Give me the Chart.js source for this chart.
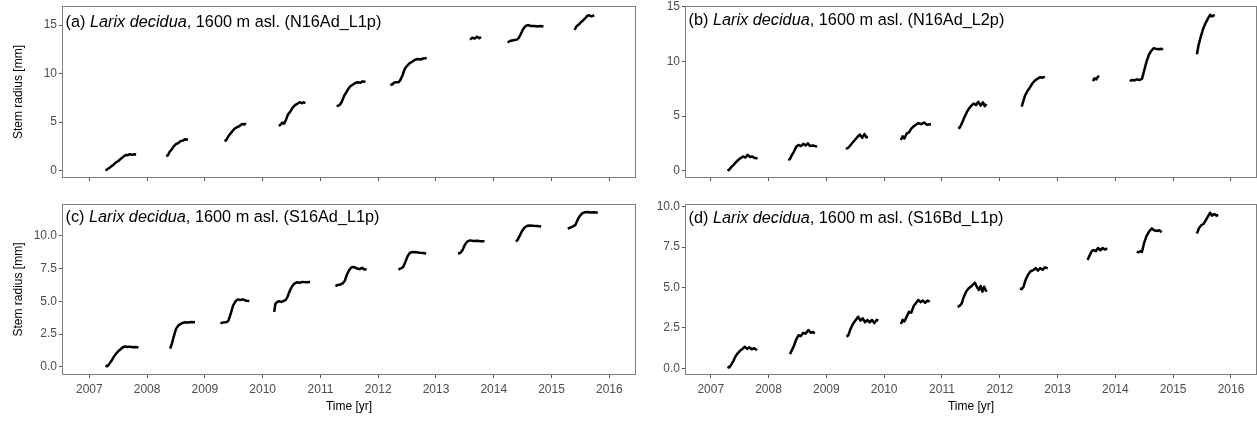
<!DOCTYPE html>
<html>
<head>
<meta charset="utf-8">
<script src="https://cdn.jsdelivr.net/npm/chart.js@4.4.1/dist/chart.umd.min.js"></script>
<style>
  body { margin: 0; background: #fff; width: 1257px; height: 421px; overflow: hidden; position: relative; }
  .panel { position: absolute; }
</style>
</head>
<body>
<div class="panel" style="left:0;top:0;width:640px;height:200px"><canvas id="chartA"></canvas></div>
<div class="panel" style="left:640px;top:0;width:617px;height:200px"><canvas id="chartB"></canvas></div>
<div class="panel" style="left:0;top:200px;width:640px;height:221px"><canvas id="chartC"></canvas></div>
<div class="panel" style="left:640px;top:200px;width:617px;height:221px"><canvas id="chartD"></canvas></div>
<script>
// ---- data (decimal year, stem radius in mm); null splits growing seasons ----
const yearTicks = [2007, 2008, 2009, 2010, 2011, 2012, 2013, 2014, 2015, 2016];
const radiusTicksAB = [0, 5, 10, 15];
const radiusTicksCD = [0, 2.5, 5, 7.5, 10];

const timeA = [
  2007.28, 2007.31, 2007.35, 2007.39, 2007.42, 2007.46, 2007.50, 2007.54, 2007.57, 2007.60, 2007.63, 2007.67, 2007.70, 2007.74, 2007.78, 2007.81, null,
  2008.33, 2008.36, 2008.39, 2008.42, 2008.46, 2008.50, 2008.54, 2008.58, 2008.62, 2008.66, 2008.71, null,
  2009.34, 2009.37, 2009.40, 2009.44, 2009.48, 2009.52, 2009.56, 2009.60, 2009.64, 2009.68, 2009.71, null,
  2010.28, 2010.31, 2010.34, 2010.37, 2010.40, 2010.44, 2010.48, 2010.52, 2010.56, 2010.60, 2010.64, 2010.68, 2010.71, 2010.74, null,
  2011.28, 2011.31, 2011.34, 2011.37, 2011.41, 2011.45, 2011.49, 2011.53, 2011.57, 2011.61, 2011.65, 2011.69, 2011.73, 2011.78, null,
  2012.21, 2012.24, 2012.27, 2012.31, 2012.35, 2012.38, 2012.42, 2012.46, 2012.50, 2012.54, 2012.58, 2012.63, 2012.68, 2012.73, 2012.78, 2012.84, null,
  2013.59, 2013.63, 2013.67, 2013.71, 2013.75, 2013.78, null,
  2014.24, 2014.28, 2014.32, 2014.36, 2014.40, 2014.43, 2014.47, 2014.51, 2014.55, 2014.59, 2014.64, 2014.70, 2014.76, 2014.81, 2014.86, null,
  2015.40, 2015.43, 2015.47, 2015.51, 2015.55, 2015.59, 2015.62, 2015.65, 2015.69, 2015.74
];
const radiusA = [
  0.02, 0.15, 0.30, 0.50, 0.62, 0.85, 1.00, 1.20, 1.35, 1.50, 1.62, 1.60, 1.70, 1.63, 1.70, 1.68, null,
  1.50, 1.58, 1.95, 2.15, 2.50, 2.75, 2.85, 3.05, 3.10, 3.25, 3.20, null,
  3.05, 3.15, 3.50, 3.80, 4.10, 4.35, 4.50, 4.60, 4.80, 4.75, 4.90, null,
  4.60, 4.75, 4.95, 4.85, 5.20, 5.80, 6.10, 6.50, 6.75, 6.90, 7.05, 6.95, 7.05, 6.95, null,
  6.65, 6.70, 6.80, 7.10, 7.70, 8.10, 8.50, 8.75, 8.90, 9.05, 9.10, 9.05, 9.20, 9.15, null,
  8.90, 8.85, 9.05, 9.10, 9.10, 9.30, 9.80, 10.50, 10.80, 11.05, 11.20, 11.40, 11.50, 11.45, 11.55, 11.60, null,
  13.50, 13.70, 13.60, 13.80, 13.65, 13.75, null,
  13.20, 13.35, 13.40, 13.45, 13.50, 13.65, 14.10, 14.60, 14.90, 15.00, 14.90, 14.90, 14.85, 14.90, 14.85, null,
  14.50, 14.85, 15.05, 15.30, 15.50, 15.75, 15.95, 16.00, 15.90, 16.00
];

const timeB = [
  2007.29, 2007.32, 2007.36, 2007.40, 2007.44, 2007.48, 2007.52, 2007.56, 2007.60, 2007.64, 2007.68, 2007.72, 2007.76, 2007.81, null,
  2008.34, 2008.37, 2008.40, 2008.44, 2008.48, 2008.52, 2008.56, 2008.60, 2008.64, 2008.68, 2008.72, 2008.77, 2008.84, null,
  2009.34, 2009.38, 2009.42, 2009.46, 2009.50, 2009.54, 2009.58, 2009.62, 2009.66, 2009.69, 2009.72, null,
  2010.29, 2010.32, 2010.35, 2010.39, 2010.43, 2010.47, 2010.51, 2010.55, 2010.59, 2010.64, 2010.69, 2010.74, 2010.81, null,
  2011.28, 2011.31, 2011.35, 2011.39, 2011.43, 2011.47, 2011.51, 2011.55, 2011.59, 2011.63, 2011.67, 2011.71, 2011.74, 2011.77, null,
  2012.38, 2012.41, 2012.44, 2012.48, 2012.52, 2012.56, 2012.60, 2012.65, 2012.70, 2012.74, 2012.78, null,
  2013.61, 2013.64, 2013.67, 2013.70, 2013.72, null,
  2014.25, 2014.29, 2014.33, 2014.37, 2014.42, 2014.46, 2014.50, 2014.54, 2014.58, 2014.62, 2014.66, 2014.70, 2014.75, 2014.80, 2014.82, null,
  2015.41, 2015.44, 2015.48, 2015.52, 2015.56, 2015.60, 2015.64, 2015.67, 2015.70, 2015.72
];
const radiusB = [
  0.00, 0.10, 0.35, 0.55, 0.80, 1.00, 1.15, 1.30, 1.20, 1.45, 1.25, 1.30, 1.15, 1.13, null,
  0.98, 1.05, 1.40, 1.75, 2.20, 2.35, 2.25, 2.45, 2.30, 2.50, 2.25, 2.30, 2.20, null,
  1.98, 2.10, 2.35, 2.60, 2.85, 3.10, 3.30, 3.00, 3.35, 3.05, 3.10, null,
  2.80, 3.15, 2.95, 3.40, 3.50, 3.85, 4.05, 4.20, 4.35, 4.25, 4.40, 4.20, 4.25, null,
  3.88, 3.95, 4.40, 4.90, 5.35, 5.70, 5.95, 6.15, 6.00, 6.30, 5.95, 6.25, 5.90, 6.10, null,
  5.86, 6.40, 6.90, 7.30, 7.60, 7.95, 8.20, 8.40, 8.55, 8.50, 8.60, null,
  8.20, 8.45, 8.35, 8.60, 8.66, null,
  8.20, 8.30, 8.25, 8.35, 8.30, 8.40, 9.20, 10.00, 10.60, 10.95, 11.20, 11.15, 11.10, 11.15, 11.05, null,
  10.65, 11.50, 12.30, 13.00, 13.50, 13.90, 14.25, 14.10, 14.20, 14.15
];

const timeC = [
  2007.28, 2007.31, 2007.34, 2007.38, 2007.42, 2007.46, 2007.50, 2007.54, 2007.58, 2007.62, 2007.66, 2007.70, 2007.75, 2007.80, 2007.85, null,
  2008.40, 2008.43, 2008.46, 2008.50, 2008.54, 2008.57, 2008.61, 2008.66, 2008.71, 2008.77, 2008.83, null,
  2009.27, 2009.31, 2009.35, 2009.38, 2009.41, 2009.45, 2009.49, 2009.53, 2009.57, 2009.61, 2009.66, 2009.71, 2009.77, null,
  2010.20, 2010.22, 2010.25, 2010.29, 2010.33, 2010.37, 2010.40, 2010.43, 2010.47, 2010.51, 2010.55, 2010.59, 2010.64, 2010.69, 2010.75, 2010.82, null,
  2011.26, 2011.30, 2011.34, 2011.38, 2011.42, 2011.46, 2011.50, 2011.54, 2011.58, 2011.63, 2011.68, 2011.72, 2011.76, 2011.80, null,
  2012.35, 2012.39, 2012.43, 2012.47, 2012.51, 2012.55, 2012.60, 2012.66, 2012.72, 2012.78, 2012.83, null,
  2013.38, 2013.42, 2013.46, 2013.50, 2013.54, 2013.59, 2013.65, 2013.71, 2013.77, 2013.84, null,
  2014.38, 2014.41, 2014.45, 2014.49, 2014.53, 2014.58, 2014.63, 2014.69, 2014.75, 2014.82, null,
  2015.28, 2015.32, 2015.37, 2015.41, 2015.45, 2015.49, 2015.53, 2015.57, 2015.62, 2015.68, 2015.74, 2015.80
];
const radiusC = [
  0.12, 0.05, 0.20, 0.45, 0.75, 1.00, 1.20, 1.35, 1.50, 1.56, 1.52, 1.55, 1.50, 1.52, 1.48, null,
  1.39, 1.80, 2.30, 2.90, 3.15, 3.25, 3.35, 3.40, 3.38, 3.42, 3.40, null,
  3.33, 3.38, 3.40, 3.42, 3.55, 4.10, 4.70, 5.00, 5.15, 5.10, 5.15, 5.05, 5.02, null,
  4.20, 4.80, 4.95, 5.00, 4.95, 5.05, 5.10, 5.35, 5.80, 6.15, 6.35, 6.45, 6.42, 6.48, 6.45, 6.48, null,
  6.16, 6.25, 6.28, 6.35, 6.55, 7.05, 7.40, 7.60, 7.62, 7.50, 7.45, 7.55, 7.42, 7.45, null,
  7.42, 7.50, 7.60, 8.00, 8.45, 8.70, 8.76, 8.74, 8.70, 8.68, 8.64, null,
  8.64, 8.68, 8.90, 9.30, 9.55, 9.64, 9.60, 9.62, 9.58, 9.57, null,
  9.57, 9.65, 10.00, 10.35, 10.60, 10.75, 10.78, 10.75, 10.74, 10.70, null,
  10.53, 10.60, 10.70, 10.80, 11.20, 11.50, 11.70, 11.78, 11.80, 11.76, 11.78, 11.74
];

const timeD = [
  2007.29, 2007.32, 2007.35, 2007.39, 2007.43, 2007.47, 2007.51, 2007.55, 2007.59, 2007.63, 2007.67, 2007.71, 2007.75, 2007.80, null,
  2008.37, 2008.40, 2008.44, 2008.48, 2008.52, 2008.56, 2008.60, 2008.64, 2008.69, 2008.73, 2008.77, 2008.80, null,
  2009.35, 2009.38, 2009.42, 2009.46, 2009.50, 2009.55, 2009.59, 2009.63, 2009.67, 2009.71, 2009.75, 2009.79, 2009.83, 2009.87, 2009.90, null,
  2010.29, 2010.32, 2010.35, 2010.39, 2010.43, 2010.47, 2010.51, 2010.55, 2010.59, 2010.63, 2010.67, 2010.71, 2010.75, 2010.79, null,
  2011.27, 2011.30, 2011.34, 2011.38, 2011.42, 2011.46, 2011.50, 2011.54, 2011.57, 2011.61, 2011.64, 2011.67, 2011.70, 2011.73, 2011.76, 2011.78, null,
  2012.35, 2012.38, 2012.41, 2012.45, 2012.49, 2012.53, 2012.58, 2012.62, 2012.66, 2012.70, 2012.74, 2012.78, 2012.83, null,
  2013.52, 2013.55, 2013.59, 2013.62, 2013.66, 2013.70, 2013.74, 2013.78, 2013.82, 2013.86, null,
  2014.37, 2014.40, 2014.43, 2014.46, 2014.50, 2014.54, 2014.58, 2014.63, 2014.67, 2014.72, 2014.76, 2014.80, null,
  2015.41, 2015.45, 2015.49, 2015.53, 2015.57, 2015.61, 2015.64, 2015.67, 2015.71, 2015.75, 2015.78
];
const radiusD = [
  0.10, 0.05, 0.20, 0.45, 0.75, 0.95, 1.10, 1.20, 1.34, 1.20, 1.30, 1.18, 1.25, 1.13, null,
  0.88, 1.10, 1.40, 1.80, 2.05, 2.00, 2.20, 2.15, 2.37, 2.20, 2.25, 2.16, null,
  1.96, 2.05, 2.45, 2.75, 2.95, 3.20, 2.95, 3.10, 2.85, 3.00, 2.85, 3.00, 2.80, 3.00, 2.95, null,
  2.74, 3.00, 2.90, 3.20, 3.50, 3.45, 3.85, 4.05, 4.23, 4.10, 4.20, 4.05, 4.20, 4.12, null,
  3.81, 3.85, 4.00, 4.45, 4.75, 4.95, 5.05, 5.20, 5.30, 5.00, 4.85, 5.10, 4.75, 5.05, 4.80, 4.85, null,
  4.95, 4.90, 5.05, 5.50, 5.80, 6.00, 6.08, 6.20, 6.05, 6.20, 6.10, 6.25, 6.19, null,
  6.70, 6.95, 7.25, 7.32, 7.25, 7.45, 7.30, 7.45, 7.35, 7.42, null,
  7.22, 7.18, 7.25, 7.20, 7.80, 8.20, 8.45, 8.66, 8.55, 8.50, 8.55, 8.42, null,
  8.35, 8.70, 8.87, 8.95, 9.20, 9.45, 9.63, 9.45, 9.55, 9.45, 9.49
];

const FONT = '"Liberation Sans", Arial, Helvetica, sans-serif';

// panel label drawn inside the top-left corner, plus the grey frame
const framePlugin = {
  id: 'frame',
  afterDatasetsDraw(chart, args, opts) {
    const { ctx, chartArea: a } = chart;
    ctx.save();
    ctx.strokeStyle = '#808080';
    ctx.lineWidth = 1;
    ctx.strokeRect(a.left + 0.5, a.top + 0.5, a.right - a.left - 1, a.bottom - a.top - 1);
    let x = a.left + 3.5;
    const y = a.top + opts.dy;
    ctx.fillStyle = '#000';
    ctx.textBaseline = 'alphabetic';
    opts.parts.forEach(p => {
      ctx.font = (p.italic ? 'italic ' : '') + '16.3px ' + FONT;
      ctx.fillText(p.text, x, y);
      x += ctx.measureText(p.text).width;
    });
    ctx.restore();
  }
};

function makePanel(id, cfg) {
  const points = cfg.time.map((t, i) => ({ x: t, y: cfg.radius[i] }));
  new Chart(document.getElementById(id), {
    type: 'line',
    data: {
      datasets: [{
        data: points,
        borderColor: '#000',
        borderWidth: 2.5,
        borderJoinStyle: 'round',
        pointRadius: 0,
        tension: 0,
        spanGaps: false
      }]
    },
    options: {
      responsive: true,
      maintainAspectRatio: false,
      animation: false,
      events: [],
      layout: { padding: { top: cfg.padTop, right: cfg.padRight, bottom: 0, left: 0 } },
      plugins: {
        legend: { display: false },
        tooltip: { enabled: false },
        frame: { dy: cfg.labelDy, parts: cfg.label }
      },
      scales: {
        x: {
          type: 'linear',
          min: cfg.xMin, max: cfg.xMax,
          afterBuildTicks: s => { s.ticks = yearTicks.map(v => ({ value: v })); },
          afterFit: s => { s.height = cfg.xHeight; s.paddingLeft = 0; s.paddingRight = 0; },
          grid: { drawOnChartArea: false, drawTicks: true, tickLength: 3, color: '#555' },
          border: { display: false },
          ticks: {
            display: cfg.showYears, padding: 4, maxRotation: 0, autoSkip: false,
            color: '#4d4d4d', font: { family: FONT, size: 12 },
            callback: v => String(v)
          },
          title: {
            display: cfg.showYears, text: 'Time [yr]', color: '#000',
            font: { family: FONT, size: 12 }, padding: { top: 0, bottom: 7 }
          }
        },
        y: {
          min: cfg.yMin, max: cfg.yMax,
          afterBuildTicks: s => { s.ticks = cfg.yTicks.map(v => ({ value: v })); },
          afterFit: s => { s.width = cfg.yWidth; s.paddingTop = 0; s.paddingBottom = 0; },
          grid: { drawOnChartArea: false, drawTicks: true, tickLength: 3, color: '#555' },
          border: { display: false },
          ticks: {
            padding: 2, color: '#4d4d4d', font: { family: FONT, size: 12 },
            callback: v => cfg.decimals ? v.toFixed(1) : String(v)
          },
          title: {
            display: cfg.showYTitle, text: 'Stem radius [mm]', color: '#000',
            font: { family: FONT, size: 12 }, padding: { top: 11, bottom: 0 }
          }
        }
      }
    },
    plugins: [framePlugin]
  });
}

function label(letter, site) {
  return [
    { text: '(' + letter + ') ' },
    { text: 'Larix decidua', italic: true },
    { text: ', 1600 m asl. (' + site + ')' }
  ];
}

makePanel('chartA', {
  time: timeA, radius: radiusA, label: label('a', 'N16Ad_L1p'), labelDy: 20.5,
  xMin: 2006.527, xMax: 2016.462, yMin: -0.75, yMax: 16.96, yTicks: radiusTicksAB, decimals: false,
  padTop: 6, padRight: 4, yWidth: 62, xHeight: 22, showYears: false, showYTitle: true
});
makePanel('chartB', {
  time: timeB, radius: radiusB, label: label('b', 'N16Ad_L2p'), labelDy: 19,
  xMin: 2006.555, xMax: 2016.45, yMin: -0.67, yMax: 15.06, yTicks: radiusTicksAB, decimals: false,
  padTop: 6, padRight: 0, yWidth: 45, xHeight: 22, showYears: false, showYTitle: false
});
makePanel('chartC', {
  time: timeC, radius: radiusC, label: label('c', 'S16Ad_L1p'), labelDy: 18,
  xMin: 2006.527, xMax: 2016.462, yMin: -0.61, yMax: 12.41, yTicks: radiusTicksCD, decimals: true,
  padTop: 4, padRight: 4, yWidth: 62, xHeight: 46, showYears: true, showYTitle: true
});
makePanel('chartD', {
  time: timeD, radius: radiusD, label: label('d', 'S16Bd_L1p'), labelDy: 18.5,
  xMin: 2006.555, xMax: 2016.45, yMin: -0.41, yMax: 10.17, yTicks: radiusTicksCD, decimals: true,
  padTop: 4, padRight: 0, yWidth: 45, xHeight: 46, showYears: true, showYTitle: false
});
</script>
</body>
</html>
